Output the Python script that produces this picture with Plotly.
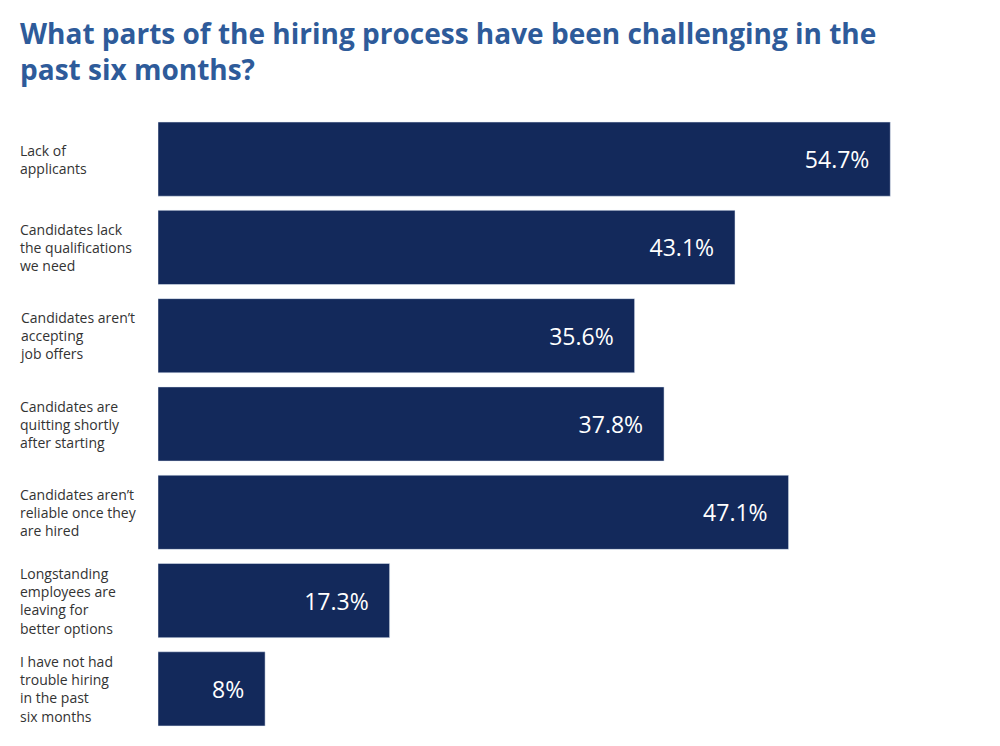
import plotly.graph_objects as go

categories = [
    "Lack of<br>applicants",
    "Candidates lack<br>the qualifications<br>we need",
    "Candidates aren’t<br>accepting<br>job offers",
    "Candidates are<br>quitting shortly<br>after starting",
    "Candidates aren’t<br>reliable once they<br>are hired",
    "Longstanding<br>employees are<br>leaving for<br>better options",
    "I have not had<br>trouble hiring<br>in the past<br>six months",
]
values = [54.7, 43.1, 35.6, 37.8, 47.1, 17.3, 8]
value_labels = ["54.7%", "43.1%", "35.6%", "37.8%", "47.1%", "17.3%", "8%"]

# page has an 8px body margin, so keep the figure a bit smaller than the window
W, H = 984, 730
left, right, top, bottom = 150, 12, 107, 5
plot_w = W - left - right
plot_h = H - top - bottom

fig = go.Figure(go.Bar(
    x=values, y=categories, orientation="h",
    marker_color="#13295b",
    text=[t + "   " for t in value_labels], textposition="inside", insidetextanchor="end",
    textfont=dict(color="white", size=23, family="Open Sans"),
    hoverinfo="skip",
))

for cat in categories:
    fig.add_annotation(
        x=-140 / plot_w, xref="paper", y=cat, yref="y",
        text=cat, showarrow=False, xanchor="left", align="left",
        font=dict(size=14, color="#333333", family="Open Sans"),
    )

fig.add_annotation(
    x=-140 / plot_w, xref="paper", y=1 + 103 / plot_h, yref="paper",
    xanchor="left", yanchor="top", align="left", showarrow=False,
    text="<b>What parts of the hiring process have been challenging in the<br>past six months?</b>",
    font=dict(size=28, color="#2e5b9a", family="Open Sans"),
)

fig.update_layout(
    width=W, height=H,
    margin=dict(l=left, r=right, t=top, b=bottom),
    paper_bgcolor="white", plot_bgcolor="white",
    bargap=0.16,
    showlegend=False,
    xaxis=dict(range=[0, 61.4], visible=False),
    yaxis=dict(autorange="reversed", showticklabels=False, showgrid=False, zeroline=False),
    uniformtext=dict(minsize=23, mode="show"),
)

fig.write_html("out.html")
